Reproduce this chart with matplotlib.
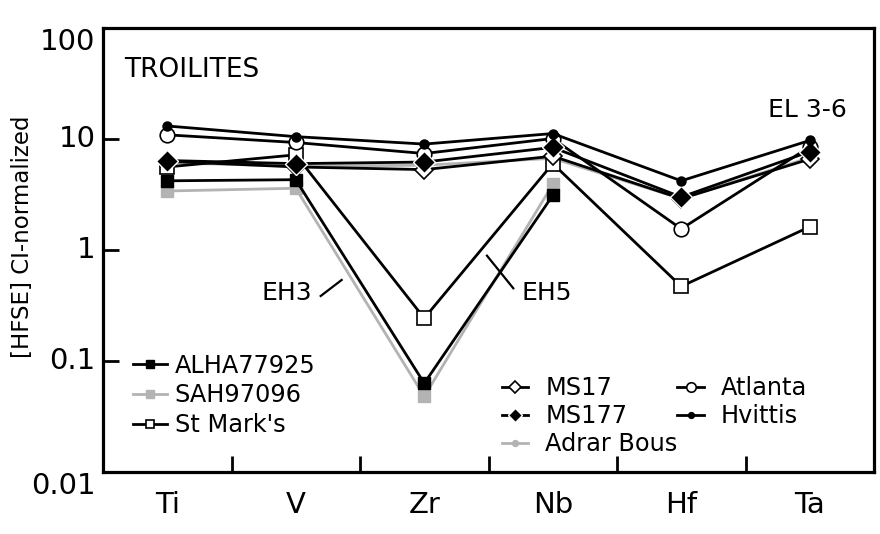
import matplotlib

matplotlib.use("Agg")
import matplotlib.pyplot as plt
import numpy as np

# HFSE, CI-normalized troilite data
elements = ["Ti", "V", "Zr", "Nb", "Hf", "Ta"]
nan = np.nan

alha77925 = [4.2, 4.3, 0.063, 3.1, nan, nan]
sah97096 = [3.4, 3.6, 0.048, 3.9, nan, nan]
st_marks = [5.6, 7.2, 0.243, 6.0, 0.47, 1.62]
ms17 = [6.3, 5.6, 5.3, 7.0, 2.9, 6.6]
ms177 = [6.4, 6.0, 6.2, 8.4, 3.0, 7.7]
adrar_bous = [6.1, 5.7, 5.8, 6.7, 2.9, 6.8]
atlanta = [10.9, 9.3, 7.4, 10.1, 1.55, 8.5]
hvittis = [13.1, 10.5, 9.0, 11.2, 4.2, 9.7]

BLACK = "#000000"
GRAY = "#b3b3b3"

fig = plt.figure(figsize=(8.8, 5.34), dpi=100)
ax = fig.add_axes([103 / 880, 62 / 534, 771 / 880, 444 / 534])
x = np.arange(len(elements))
lw = 2.0

# gray series go underneath
sah_line, = ax.plot(x, sah97096, color=GRAY, lw=lw, marker="s", ms=8.5,
                    mfc=GRAY, mec=GRAY, zorder=2)
adrar_line, = ax.plot(x, adrar_bous, color=GRAY, lw=lw, marker="o", ms=6.5,
                      mfc=GRAY, mec=GRAY, zorder=2)

alha_line, = ax.plot(x, alha77925, color=BLACK, lw=lw, marker="s", ms=8.5,
                     mfc=BLACK, mec=BLACK, zorder=3)
stm_line, = ax.plot(x, st_marks, color=BLACK, lw=lw, marker="s", ms=9.5,
                    mfc="white", mec=BLACK, mew=1.2, zorder=3)
ms17_line, = ax.plot(x, ms17, color=BLACK, lw=lw, marker="D", ms=9,
                     mfc="white", mec=BLACK, mew=1.2, zorder=3)
ms177_line, = ax.plot(x, ms177, color=BLACK, lw=lw, marker="D", ms=11,
                      mfc=BLACK, mec="white", mew=1.0, zorder=4)
atl_line, = ax.plot(x, atlanta, color=BLACK, lw=lw, marker="o", ms=10.5,
                    mfc="white", mec=BLACK, mew=1.2, zorder=3)
hvi_line, = ax.plot(x, hvittis, color=BLACK, lw=lw, marker="o", ms=6.5,
                    mfc=BLACK, mec=BLACK, zorder=4)

ax.set_yscale("log")
ax.set_ylim(0.01, 100)
ax.set_xlim(-0.5, len(elements) - 0.5)

ax.set_yticks([0.01, 0.1, 1, 10, 100])
ax.set_yticklabels(["0.01", "0.1", "1", "10", "100"])
ax.yaxis.set_minor_locator(matplotlib.ticker.NullLocator())
ax.tick_params(axis="y", direction="in", length=11.5, width=2.0, labelsize=21, pad=5.5)
for lab, va in zip(ax.get_yticklabels(), ["top", "center", "center", "center", "top"]):
    lab.set_va(va)

ax.set_xticks(x)
ax.set_xticklabels(elements)
ax.set_xticks(x[:-1] + 0.5, minor=True)
ax.tick_params(axis="x", which="major", length=0, labelsize=21, pad=14)
ax.tick_params(axis="x", which="minor", direction="in", length=11.5, width=2.0)

for spine in ax.spines.values():
    spine.set_linewidth(2.3)

ax.set_ylabel("[HFSE] CI-normalized", fontsize=16.5)
ax.yaxis.set_label_coords(-0.09, 0.53)

ax.text(0.028, 0.905, "TROILITES", transform=ax.transAxes, fontsize=19, va="center")
ax.text(0.965, 0.815, "EL 3-6", transform=ax.transAxes, fontsize=18,
        ha="right", va="center")
ax.text(0.93, 0.41, "EH3", fontsize=18, ha="center", va="center")
ax.plot([1.194, 1.357], [0.385, 0.537], color=BLACK, lw=1.6)
ax.text(2.76, 0.41, "EH5", fontsize=18, ha="left", va="center")
ax.plot([2.488, 2.693], [0.889, 0.452], color=BLACK, lw=1.6)

leg_kw = dict(frameon=False, fontsize=17.3, markerscale=0.65, borderpad=0,
              borderaxespad=0, loc="upper left")
leg1 = ax.legend([alha_line, sah_line, stm_line], ["ALHA77925", "SAH97096", "St Mark's"],
                 bbox_to_anchor=(0.039, 0.266), labelspacing=0.23,
                 handlelength=1.4, handletextpad=0.33, **leg_kw)
ax.add_artist(leg1)
ax.legend([ms17_line, ms177_line, adrar_line, atl_line, hvi_line],
          ["MS17", "MS177", "Adrar Bous", "Atlanta", "Hvittis"],
          bbox_to_anchor=(0.5175, 0.216), ncol=2, labelspacing=0.17,
          handlelength=1.1, handletextpad=0.7, columnspacing=0.0, **leg_kw)

fig.savefig("out.png", dpi=100, facecolor="white")
